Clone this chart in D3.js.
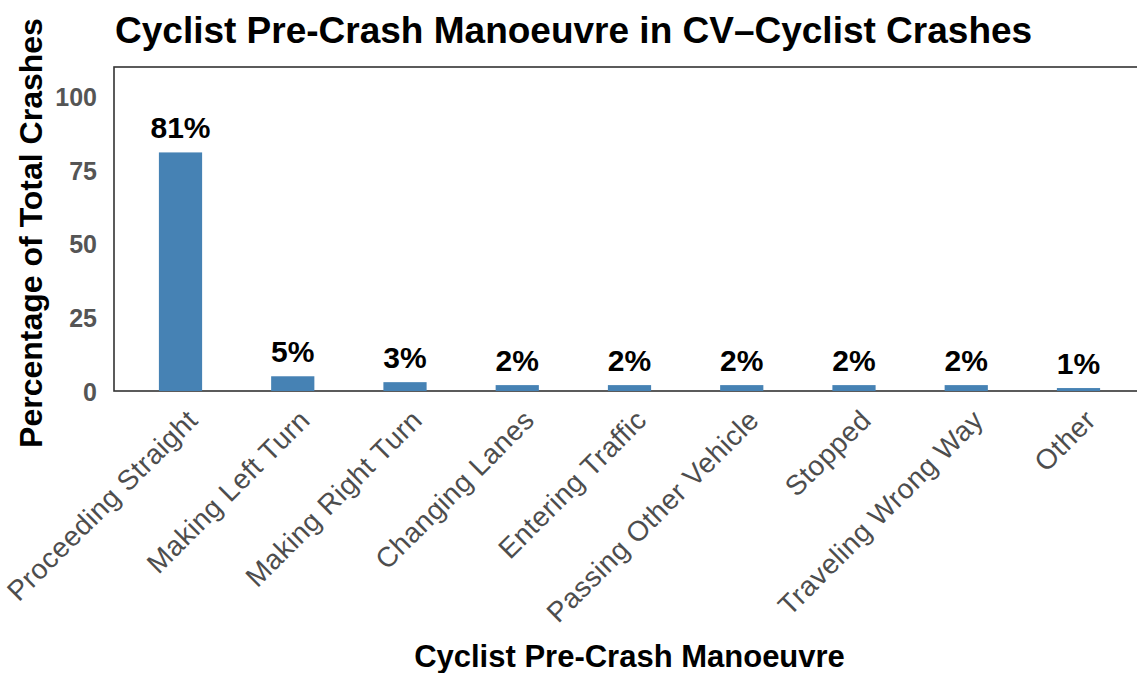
<!DOCTYPE html>
<html>
<head>
<meta charset="utf-8">
<script src="https://cdn.jsdelivr.net/npm/d3@7"></script>
<style>
  body { margin: 0; background: #fff; }
  text { font-family: "Liberation Sans", Arial, sans-serif; }
</style>
</head>
<body>
<script>
var width = 1137;
var height = 673;

// data
var manoeuvres = ["Proceeding Straight", "Making Left Turn", "Making Right Turn", "Changing Lanes",
  "Entering Traffic", "Passing Other Vehicle", "Stopped", "Traveling Wrong Way", "Other"];
var percents = [81, 5, 3, 2, 2, 2, 2, 2, 1];
var yTicks = [0, 25, 50, 75, 100];

var panel = { left: 114, top: 67, bottom: 391, right: 1145 };

var svg = d3.select("body").append("svg")
  .attr("width", width)
  .attr("height", height);

var xScale = d3.scaleBand()
  .domain(manoeuvres)
  .range([panel.left, panel.right])
  .paddingInner(0.615)
  .paddingOuter(0.4);

var yScale = d3.scaleLinear()
  .domain([0, 110])
  .range([panel.bottom, panel.top]);

// title
svg.append("text")
  .attr("x", 115)
  .attr("y", 43)
  .style("font-size", "37px")
  .style("font-weight", "bold")
  .attr("fill", "#000")
  .text("Cyclist Pre-Crash Manoeuvre in CV\u2013Cyclist Crashes");

// panel border (right side runs off the picture)
svg.append("rect")
  .attr("x", panel.left)
  .attr("y", panel.top)
  .attr("width", panel.right - panel.left)
  .attr("height", panel.bottom - panel.top)
  .attr("fill", "none")
  .attr("stroke", "#333")
  .attr("stroke-width", 1.6);

// bars
svg.append("g").selectAll("rect")
  .data(percents)
  .enter()
  .append("rect")
  .attr("x", function(d, i) { return xScale(manoeuvres[i]); })
  .attr("y", function(d) { return yScale(d); })
  .attr("width", xScale.bandwidth())
  .attr("height", function(d) { return yScale(0) - yScale(d); })
  .attr("fill", "#4682b4");

// value labels
svg.append("g").selectAll("text")
  .data(percents)
  .enter()
  .append("text")
  .attr("x", function(d, i) { return xScale(manoeuvres[i]) + xScale.bandwidth() / 2; })
  .attr("y", function(d) { return yScale(d) - 14; })
  .attr("text-anchor", "middle")
  .style("font-size", "30px")
  .style("font-weight", "bold")
  .attr("fill", "#000")
  .text(function(d) { return d + "%"; });

// y axis
var yAxis = d3.axisLeft(yScale).tickValues(yTicks).tickSize(0).tickPadding(17);
var gy = svg.append("g")
  .attr("transform", "translate(" + panel.left + ",0)")
  .call(yAxis);
gy.select(".domain").remove();
gy.selectAll("text")
  .attr("font-family", null)
  .attr("dy", "0.36em")
  .style("font-size", "25px")
  .style("font-weight", "bold")
  .attr("fill", "#555");

// x axis
var xAxis = d3.axisBottom(xScale).tickSize(0).tickPadding(0);
var gx = svg.append("g")
  .attr("transform", "translate(0," + panel.bottom + ")")
  .call(xAxis);
gx.select(".domain").remove();
gx.selectAll("text")
  .attr("font-family", null)
  .attr("text-anchor", "end")
  .attr("dy", "0.75em")
  .attr("transform", "translate(4,16) rotate(-45)")
  .style("font-size", "28px")
  .style("letter-spacing", "0.5px")
  .attr("fill", "#4d4d4d");

// axis titles
svg.append("text")
  .attr("transform", "translate(42,233) rotate(-90)")
  .attr("text-anchor", "middle")
  .style("font-size", "32px")
  .style("font-weight", "bold")
  .attr("fill", "#000")
  .text("Percentage of Total Crashes");

svg.append("text")
  .attr("x", (panel.left + panel.right) / 2)
  .attr("y", 667)
  .attr("text-anchor", "middle")
  .style("font-size", "31px")
  .style("font-weight", "bold")
  .attr("fill", "#000")
  .text("Cyclist Pre-Crash Manoeuvre");
</script>
</body>
</html>
